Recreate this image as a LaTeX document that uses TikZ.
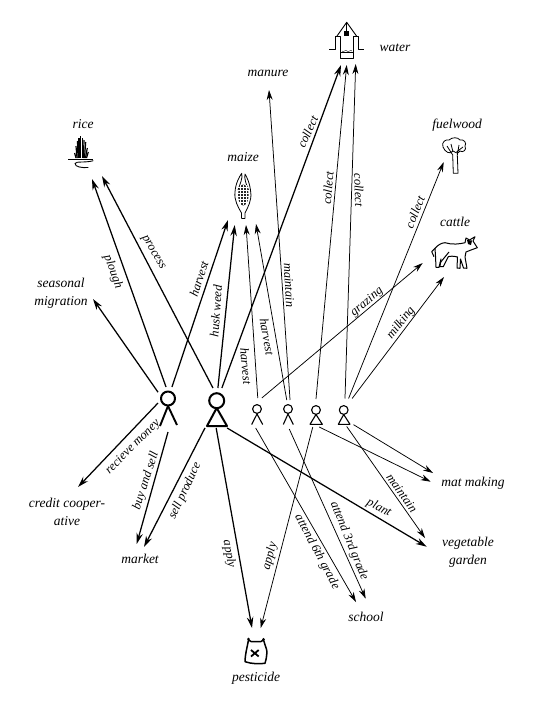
\documentclass[tikz,border=0pt]{standalone}
\usepackage{fontspec}
\setmainfont{Liberation Serif}
\usetikzlibrary{arrows.meta}
\tikzset{
  heavy/.style={line width=1.25pt,-{Stealth[length=11pt,width=6.5pt]}},
  light/.style={line width=.75pt,-{Stealth[length=10pt,width=6pt]}},
  spot/.style={rectangle,inner sep=0pt,outer sep=0pt},
  place/.style={font=\fontsize{13.5}{18}\selectfont\itshape,align=center,inner sep=0pt},
  verb/.style={font=\fontsize{12.5}{14}\selectfont\itshape,inner sep=0pt},
}
\begin{document}
\begin{tikzpicture}[x=1pt,y=-1pt,line join=round]
\useasboundingbox (0,0) rectangle (548,715);
% Places.
\foreach \x/\y/\n/\t in {83/124/rice/rice,268/73/manure/manure,395/48/water/water,
  243/157/maize/maize,457/125/fuelwood/fuelwood,455/222/cattle/cattle,
  61/293/seasonal/seasonal\\migration,67/512/credit/credit cooper-\\ative,
  140/559/market/market,256/678/pesticide/pesticide,366/617/school/school,
  468/552/garden/vegetable\\garden,473/483/mat/mat making}{
  \node[place] (\n) at (\x,\y) {\t};
}
% People, a box round each one for the arrows to leave from.
\node[spot,minimum width=20pt,minimum height=45pt] (man) at (168,409.5) {};
\node[spot,minimum width=23pt,minimum height=40pt] (woman) at (216.5,408) {};
\node[spot,minimum width=15pt,minimum height=30pt] (boya) at (257.5,413) {};
\node[spot,minimum width=16pt,minimum height=29pt] (boyb) at (288,414.5) {};
\node[spot,minimum width=16pt,minimum height=28pt] (girla) at (316,413) {};
\node[spot,minimum width=19pt,minimum height=28pt] (girlb) at (344,412.5) {};
\draw[line width=2pt] (168,398.5) circle (7);
\draw[line width=1.9pt] (160,426) -- (168,406) -- (177,425);
\draw[line width=2pt] (216.7,400.7) circle (7.5);
\draw[line width=2pt] (216.7,408) -- (207,426) -- (227,426) -- cycle;
\foreach \x/\l/\r in {257/251.7/262.7,288/283.3/293.3}{
  \draw[line width=1.1pt] (\x,409) circle (4.4);
  \draw[line width=1.1pt] (\l,424.5) -- (\x,414) -- (\r,424.5);
}
\foreach \x/\l/\r in {316/310/322.3,343.7/338.3/350}{
  \draw[line width=1.1pt] (\x,410) circle (4.4);
  \draw[line width=1.1pt] (\x,414.5) -- (\l,424.3) -- (\r,424.3) -- cycle;
}
% Free ends of the arrows.
\foreach \n/\x/\y in {inseasonal/93/299,inricea/92/179,inriceb/102/176,inmanure/269/90,
  inwatera/341/65,inwaterb/346.7/65,inwaterc/355.7/64,inmaizea/228/220,inmaizeb/234.7/225,
  inmaizec/246/225,inmaized/256/224,infuel/443.7/162,incattlea/422.7/263,incattleb/444/277,
  incredit/78/487,inmarketa/136.7/544,inmarketb/144/547,inpesta/252/628,inpestb/260.7/628,
  inschoola/356/602,inschoolb/365.7/598.7,inmata/433/473,inmatb/430.7/481.7,
  ingardena/425/538,ingardenb/426.7/546.7}{
  \coordinate (\n) at (\x,\y);
}
\foreach \a/\b in {man.120/inseasonal,man.95/inricea,man.80/inmaizea,man.147/incredit,
  man.-90/inmarketa,woman.100/inriceb,woman.86/inmaizeb,woman.75/inwatera,
  woman.-120/inmarketb,woman.-91/inpesta,woman.-62/ingardenb}{
  \draw[heavy] (\a) -- (\b);
}
\foreach \a/\b in {boya.89/inmaizec,boya.74/incattlea,boya.-97/inschoola,
  boyb.95/inmaized,boyb.82/inmanure,boyb.-85/inschoolb,
  girla.90/inwaterb,girla.-103/inpestb,girla.-77/inmatb,
  girlb.86/inwaterc,girlb.72/infuel,girlb.60/incattleb,girlb.-79/ingardena,girlb.-52/inmata}{
  \draw[light] (\a) -- (\b);
}
% Words along the arrows.
\foreach \x/\y/\r/\t [count=\i] in {307.7/132/65/collect,328/188/85/collect,359/190/-88/collect,
  415/212/68/collect,113/272/-70/plough,153/253/-60/process,199/279/72/harvest,
  216/311/86/husk weed,267/337/-80/harvest,246/366/-85/harvest,289/285/-87/maintain,
  367/302/40/grazing,401/323/52/milking,133/447/45/recieve money,146/481/72/buy and sell,
  185/491/65/sell produce,229/554/-80/apply,270/556/75/apply,317/552/-62/attend 6th grade,
  349/541/-68/attend 3rd grade,402/493/-55/maintain,379/508/-27/plant}{
  \node[verb,rotate=\r] (verb\i) at (\x,\y) {\t};
}
% Water: well house.
\draw[line width=1pt] (329.3,49.3) -- (335,49.3) -- (335,36.7) -- (340,36.7) -- (340,58.3)
  -- (353.3,58.3) -- (353.3,36.7) -- (358.3,36.7) -- (358.3,49.3) -- (364.3,49.3);
\draw[line width=.9pt] (337,36) -- (346.7,22.3) -- (356.5,36);
\draw[line width=.6pt] (346.7,22.3) -- (346.7,31);
\fill (344,30.7) rectangle (349.3,36);
\draw[line width=.5pt] (340,52.6) -- (353.3,52.6);
\draw[line width=.4pt] (342,51) .. controls (344,53) and (345,49) .. (347,51) .. controls (349,53) and (350,49) .. (352,51);
% Rice.
\foreach \b/\x/\t in {76/74.6/153,77/76/146,78/77.5/141,79/79/138,80.7/80.7/136,82.3/82.3/138,83.5/84/140,84.5/85.7/142,85.5/87.3/148,86.5/88.3/152}{
  \draw[line width=1.2pt] (\b,158) -- (\x,\t);
}
\draw[line width=1.3pt] (68.3,159.7) -- (93.3,159.7);
\draw[line width=.9pt] (93.3,160.7) .. controls (85,163) and (76,161) .. (75,163.5)
  .. controls (75,167) and (82,168) .. (88.3,167.5);
% Maize.
\draw[line width=.8pt] (241.5,218.5) -- (241.5,213) .. controls (238,207) and (234,200) .. (235,192)
  .. controls (235.5,184) and (239,177) .. (241.7,173.3) .. controls (243,178) and (240,184) .. (238,190);
\draw[line width=.8pt] (245,218.5) -- (245,213) .. controls (248,207) and (252,200) .. (250.7,192)
  .. controls (250,184) and (247,177) .. (245,174) .. controls (244,178) and (246,184) .. (248.5,190);
\draw[line width=.8pt] (241.5,218.5) -- (245,218.5);
\fill[black!85] (243.3,195) ellipse (5.3 and 10.5);
\foreach \y in {187,190,...,204}{\draw[white,line width=.25pt] (238,\y) -- (248.6,\y);}
\foreach \x in {240,243,246}{\draw[white,line width=.25pt] (\x,185) -- (\x,205);}
% Fuelwood: tree.
\draw[line width=.8pt] (452.7,155) -- (453.3,173.3) -- (458,173.3) -- (457.3,155);
\draw[line width=.8pt] (443,147) .. controls (441,142) and (446,139) .. (449,140)
  .. controls (452,137) and (458,137) .. (460,140) .. controls (464,139) and (467,143) .. (465,146)
  .. controls (467,150) and (463,153) .. (460,151) .. controls (458,154) and (455,153) .. (453,151)
  .. controls (450,155) and (445,152) .. (443,147) -- cycle;
\draw[line width=.8pt] (452.7,155) -- (447,146) (453,152) -- (451,144) (457.3,155) -- (459,145) (456.5,152) -- (463,147);
% Cattle.
\draw[line width=1pt] (435,248.3) .. controls (438,245) and (441,243) .. (445,242.7)
  .. controls (452,245) and (460,244) .. (465,242.7) -- (466,238) -- (469.5,240) -- (475,236.7)
  -- (473,241) -- (477.3,247.7) -- (471,250) -- (466,252) -- (465,257) -- (467,268.3) -- (463.5,268)
  -- (460.5,259) -- (460,268.3) -- (457,268) -- (457.5,257) .. controls (454,256) and (450,256) .. (448.3,256.7)
  -- (443.3,266.7) -- (440,266.5) -- (441,259) -- (439,267.3) -- (436,267.3) -- (435.5,256) -- (435,248.3);
\draw[line width=1pt] (435,248.3) -- (431.7,251.7) -- (434,256.7);
\draw[line width=1pt] (440,263) -- (449,252);
\fill (467,240) -- (472,240.5) -- (471,245) -- (468,244) -- cycle;
% Pesticide: bag.
\draw[line width=1.5pt] (248.5,640) .. controls (247,648) and (245,655) .. (245,661.7)
  .. controls (252,664) and (259,664) .. (265,663.3) .. controls (267,657) and (267,652) .. (266.7,650)
  -- (263.5,640) -- (261,641.5) -- (251,641.5) -- cycle;
\fill (248.5,639) circle (1.5) (263.5,639.3) circle (1.5);
\draw[line width=1.8pt] (251,650) -- (258.7,656.5) (258.7,650) -- (251,656.5);
\end{tikzpicture}
\end{document}
